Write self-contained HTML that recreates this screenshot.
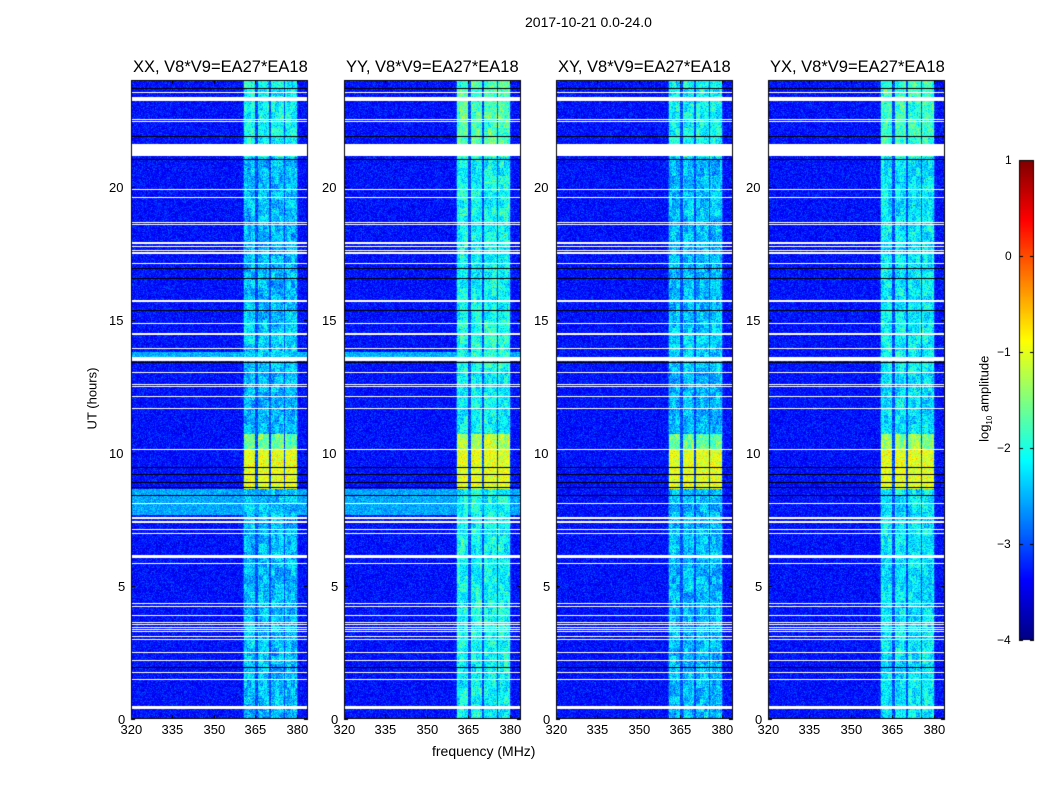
<!DOCTYPE html>
<html><head><meta charset="utf-8">
<style>
body{margin:0;background:#fff;font-family:"Liberation Sans",sans-serif;}
#wrap{position:relative;width:1050px;height:800px;overflow:hidden;background:#fff;}
.t{position:absolute;font-size:13px;color:#000;white-space:nowrap;}
.title{position:absolute;font-size:16.5px;white-space:nowrap;}
canvas{position:absolute;}
</style></head>
<body>
<div id="wrap">
<div class="t" style="left:525px;top:14px;font-size:14px">2017-10-21 0.0-24.0</div>
<div class="t" style="left:432px;top:743px;font-size:14px">frequency (MHz)</div>
<div class="t" style="left:61px;top:391px;transform:rotate(-90deg);transform-origin:center">UT (hours)</div>
<canvas id="cv" width="1050" height="800" style="left:0;top:0"></canvas>
<div class="t" style="left:942px;top:390px;transform:rotate(-90deg);transform-origin:center">log<sub style="font-size:8px">10</sub> amplitude</div>
</div>
<script>
// ---- data ----
const panelTitles = ["XX, V8*V9=EA27*EA18","YY, V8*V9=EA27*EA18","XY, V8*V9=EA27*EA18","YX, V8*V9=EA27*EA18"];
const panelGain = [0.0, 0.12, 0.0, 0.08];
const parallelHand = [true, true, false, false];
const xTicks = [320,335,350,365,380];
const yTicks = [0,5,10,15,20];
const cbTicks = [1,0,-1,-2,-3,-4];
// RFI frequency bands (MHz)
const rfiBands = [[361,365],[366,370],[370.5,375.2],[375.6,380]];
// band strength vs time: [startHour,endHour,log amplitude]
const bandLevel = [[0,8.65,-2.45],[8.65,10.1,-1.0],[10.1,10.7,-1.6],[10.7,13.0,-2.5],[13.0,15.0,-2.35],[15.0,21.1,-2.45],[21.1,24,-2.1]];
// full-width bright rows (hours), parallel hands only
const brightRows = [[7.65,8.65,-2.55],[13.6,13.8,-2.5]];
// flagged (white) rows, hours
const flagged = [[23.5,23.56],[23.2,23.38],[22.48,22.52],[22.42,22.46],[21.15,21.6],[19.88,19.92],[19.58,19.62],[18.63,18.67],[18.55,18.59],
[17.88,17.92],[17.83,17.87],[17.73,17.77],[17.58,17.62],[17.45,17.55],[17.08,17.12],[15.68,15.72],[14.84,14.88],[14.42,14.5],[13.88,13.92],[13.45,13.58],
[12.98,13.02],[12.53,12.57],[12.47,12.51],[12.08,12.12],[11.65,11.69],[10.11,10.15],[8.08,8.12],[7.5,7.6],[7.38,7.42],[7.11,7.15],[6.96,7.0],[6.05,6.15],
[5.83,5.87],[4.33,4.37],[4.22,4.26],[3.88,3.92],[3.62,3.66],[3.52,3.56],[3.43,3.47],[3.34,3.38],[3.25,3.29],[3.08,3.12],[2.98,3.02],[2.48,2.52],[2.16,2.2],
[1.71,1.75],[1.48,1.52],[0.43,0.47],[0.36,0.4]];
// dark (zero) rows, hours
const darkRows = [23.7,21.9,21.05,16.95,16.55,15.35,13.4,9.45,9.2,8.9,8.7,8.4,1.95];

const cv=document.getElementById('cv'), ctx=cv.getContext('2d');
const panelX=[131,344,556,768], PW=177, PT=80, PB=719;
const fx=(f,x0)=>x0+(f-320)*(PW/64);
const hy=h=>PB-(h/24)*(PB-PT);
function jet(t){t=Math.max(0,Math.min(1,t));const c=v=>Math.round(255*Math.max(0,Math.min(1,v)));
 return [c(1.5-Math.abs(4*t-3)),c(1.5-Math.abs(4*t-2)),c(1.5-Math.abs(4*t-1))];}
function hash(a,b,c){let h=(a*374761393+b*668265263+c*2147483647)|0;h=(h^(h>>>13))*1274126177|0;h^=h>>>16;return ((h>>>0)%10000)/10000;}
const norm=v=>(v+4)/5;
const wrap=document.getElementById('wrap');
function lab(txt,l,t,name,extra){const d=document.createElement('div');d.className='t';d.textContent=txt;d.style.left=l+'px';d.style.top=t+'px';if(extra)Object.assign(d.style,extra);


wrap.appendChild(d);return d;}
panelTitles.forEach((title,p)=>{
 const x0=panelX[p];const img=ctx.createImageData(PW,PB-PT);
 for(let j=0;j<PB-PT;j++){
  const h=24*(PB-PT-j-0.5)/(PB-PT);
  let base=-3.3, bl=-2.45;
  if(parallelHand[p]) brightRows.forEach(r=>{if(h>=r[0]&&h<r[1])base=r[2];});
  bandLevel.forEach(r=>{if(h>=r[0]&&h<r[1])bl=r[2];});
  for(let i=0;i<PW;i++){
   const f=320+(i+0.5)*64/PW;
   let v=base, inb=false;
   rfiBands.forEach(b=>{if(f>=b[0]&&f<b[1])inb=true;});
   if(f>=360.5&&f<380.5) v=Math.max(v,-3.0);
   if(inb) v=Math.max(v,bl+(bl<-1.5?panelGain[p]*3:0));
   const n=hash(i,j,p)+hash(j,i,p+7)-1;
   v+=n*(inb?0.55:0.4);
   if(inb&&bl<-1.5)v+= (hash(i>>2,j>>3,p)-0.5)*0.5;
   const c=jet(norm(v));const k=4*(j*PW+i);
   img.data[k]=c[0];img.data[k+1]=c[1];img.data[k+2]=c[2];img.data[k+3]=255;
  }
 }
 ctx.putImageData(img,x0,PT);
 ctx.fillStyle='#fff';
 flagged.forEach(r=>{const y1=Math.round(hy(r[1])),y2=Math.round(hy(r[0]));ctx.fillRect(x0,y1,PW,Math.max(1,y2-y1));});
 ctx.fillStyle='#000';
 darkRows.forEach(h=>{ctx.fillRect(x0,Math.round(hy(h)),PW,1);});
 ctx.strokeStyle='#000';ctx.lineWidth=1;ctx.strokeRect(x0+0.5,PT+0.5,PW-1,PB-PT-1);
 ctx.beginPath();
 xTicks.forEach(t=>{const x=Math.round(fx(t,x0))+0.5;ctx.moveTo(x,PB);ctx.lineTo(x,PB-4);ctx.moveTo(x,PT);ctx.lineTo(x,PT+4);
  lab(String(t),x-11,722,'x-tick-label');});
 yTicks.forEach(t=>{const y=Math.round(hy(t))+0.5;ctx.moveTo(x0,y);ctx.lineTo(x0+4,y);ctx.moveTo(x0+PW,y);ctx.lineTo(x0+PW-4,y);
  lab(String(t),x0-(t>=10?22:13),y-8,'y-tick-label');});
 ctx.stroke();
 const tt=document.createElement('div');tt.className='title';tt.textContent=title;tt.style.left=(x0+2)+'px';tt.style.top='58px';
 
 
 wrap.appendChild(tt);
});
// colorbar
const cbx=1019,cbt=160,cbb=640,cbw=15;
for(let y=cbt;y<cbb;y++){const c=jet(1-(y-cbt)/(cbb-cbt));ctx.fillStyle=`rgb(${c[0]},${c[1]},${c[2]})`;ctx.fillRect(cbx,y,cbw,1);}
ctx.strokeStyle='#000';ctx.strokeRect(cbx+0.5,cbt+0.5,cbw-1,cbb-cbt-1);
ctx.beginPath();
cbTicks.forEach(t=>{const y=Math.round(cbt+(1-t)/5*(cbb-cbt))+0.5;ctx.moveTo(cbx,y);ctx.lineTo(cbx+4,y);ctx.moveTo(cbx+cbw,y);ctx.lineTo(cbx+cbw-4,y);
 lab(t<0?'\u2212'+(-t):String(t),t<0?997:1005,y-8,'colorbar-tick-label',{fontSize:'12px'});});
ctx.stroke();
</script>
</body></html>
